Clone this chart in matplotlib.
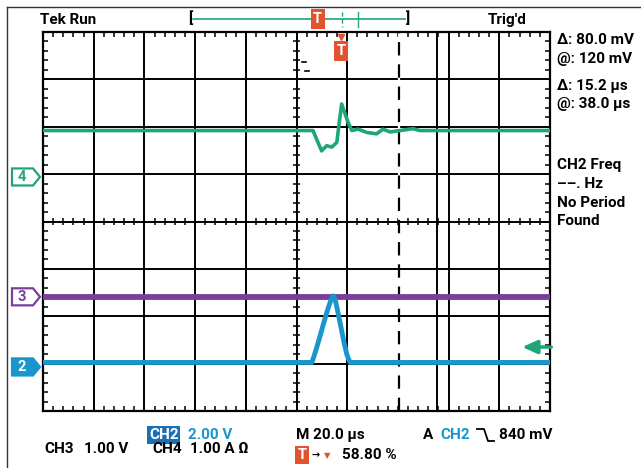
import numpy as np
import matplotlib.pyplot as plt
from matplotlib.transforms import Affine2D, blended_transform_factory
from matplotlib.patches import Polygon

plt.rcParams['font.family'] = ['Roboto', 'DejaVu Sans']
plt.rcParams['font.weight'] = 'bold'

# Scope settings
time_per_div = 20.0      # us / div
trig_pos = 0.588         # trigger position on screen
n_xdiv, n_ydiv = 10, 8
cursor_t = [22.8, 38.0]  # vertical cursors (us)
trig_level = 0.84        # V on CH2

# Channel ground positions (div) and scales (per div)
ch2_pos, ch2_scale = -3.07, 2.0
ch3_pos, ch3_scale = -1.59, 1.0
ch4_pos, ch4_scale = 0.94, 1.0

# CH4 current (A)
ch4_t = [-117.6, -11.1, -7.7, -5.7, -3.7, -1.7, -0.8, 0.2, 2.7, 4.2, 6.7,
         10.1, 14.0, 16.5, 19.3, 23.2, 28.4, 31.0, 82.4]
ch4_v = [0.98, 0.98, 0.55, 0.66, 0.63, 0.73, 1.12, 1.54, 1.16, 0.98, 1.01,
         0.94, 0.91, 1.01, 0.95, 0.98, 1.02, 0.98, 0.98]

# CH2 voltage (V)
ch2_t = [-117.6, -11.5, -9.9, -8.3, -6.75, -5.2, -4.0, -3.2, -2.4, -1.2,
         0.0, 1.1, 2.3, 3.5, 82.4]
ch2_v = [0.19, 0.19, 0.72, 1.31, 1.90, 2.45, 2.83, 3.00, 2.87, 2.28,
         1.65, 1.06, 0.51, 0.19, 0.19]

# CH3 voltage (V)
ch3_t = [-117.6, 82.4]
ch3_v = [0.0, 0.0]

green = '#1fa676'
blue = '#1a96cc'
purple = '#7a3e9d'
orange = '#e2532d'
boxblue = '#1b6fb5'

fig = plt.figure(figsize=(6.41, 4.68), dpi=100)
fig.patch.set_facecolor('white')
# pixel coordinates, origin top-left
px = Affine2D().scale(1 / 641, -1 / 468).translate(0, 1) + fig.transFigure

ax = fig.add_axes([43 / 641, 1 - 411 / 468, 507 / 641, 379 / 468])
t0 = -trig_pos * n_xdiv * time_per_div
t1 = t0 + n_xdiv * time_per_div
ax.set_xlim(t0, t1)
ax.set_ylim(-n_ydiv / 2, n_ydiv / 2)
ax.set_xticks([])
ax.set_yticks([])
for s in ax.spines.values():
    s.set_linewidth(1.6)

# Graticule
xgrid = t0 + time_per_div * np.arange(1, n_xdiv)
xgrid = [x for x in xgrid if abs(x - cursor_t[0]) > 2]
ax.vlines(xgrid, -4, 4, color='black', lw=1.4, zorder=1)
ax.hlines(np.arange(-3, 4), t0, t1, color='black', lw=1.4, zorder=1)

xminor = t0 + time_per_div / 5 * np.arange(1, n_xdiv * 5)
yminor = -4 + 0.2 * np.arange(1, n_ydiv * 5)
tx = 2.0    # tick length in us
ty = 0.105  # tick length in div
ax.vlines(xminor, 4 - ty, 4, color='black', lw=1.1)
ax.vlines(xminor, -4, -4 + ty, color='black', lw=1.1)
ax.hlines(yminor, t0, t0 + tx, color='black', lw=1.1)
ax.hlines(yminor, t1 - tx, t1, color='black', lw=1.1)
xc = t0 + time_per_div * n_xdiv / 2
ax.vlines(xminor, -0.07, 0.07, color='black', lw=1.1)
ax.hlines(yminor, xc - 1.3, xc + 1.3, color='black', lw=1.1)

# Cursors
ax.axvline(cursor_t[0], color='black', lw=1.6, ls=(0, (6, 4)), gapcolor='white', zorder=2)
ax.axvline(cursor_t[1], color='black', lw=1.4, zorder=2)
ax.plot([xc + 2.2, xc + 3.6], [3.37, 3.37], color='black', lw=1.2)
ax.plot([xc + 3.4, xc + 4.8], [3.18, 3.18], color='black', lw=1.2)

# Traces
ax.plot(ch3_t, ch3_pos + np.array(ch3_v) / ch3_scale, color=purple, lw=4.2, zorder=3)
ax.plot(ch4_t, ch4_pos + np.array(ch4_v) / ch4_scale, color=green, lw=2.6, zorder=4)
ax.plot(ch2_t, ch2_pos + np.array(ch2_v) / ch2_scale, color=blue, lw=3.5, zorder=5)

# Trigger level arrow
lvl = ch2_pos + trig_level / ch2_scale
ax.annotate('', xy=(t1 - 11, lvl), xytext=(t1 + 0.5, lvl), annotation_clip=False,
            arrowprops=dict(arrowstyle='-|>,head_length=0.9,head_width=0.4',
                            color=green, lw=2.5, shrinkA=0, shrinkB=0), zorder=6)

# Trigger marker at top of graticule
ax.text(0, 0.95, 'T', transform=ax.get_xaxis_transform(), ha='center', va='center',
        color='white', fontsize=10.5,
        bbox=dict(boxstyle='square,pad=0.18', fc=orange, ec='none'), zorder=7)
ax.plot([0], [0.988], marker='v', color=orange, ms=5,
        transform=ax.get_xaxis_transform(), clip_on=False, zorder=7)

# Channel ground markers
mk = blended_transform_factory(px, ax.transData)
for pos, lab, col, filled in [(ch4_pos, '4', green, False),
                              (ch3_pos, '3', purple, False),
                              (ch2_pos, '2', blue, True)]:
    h = 0.18
    poly = Polygon([(12, pos + h), (33, pos + h), (40, pos), (33, pos - h), (12, pos - h)],
                   closed=True, transform=mk, clip_on=False, lw=1.6,
                   ec=col, fc=col if filled else 'white')
    ax.add_patch(poly)
    ax.text(22, pos, lab, transform=mk, ha='center', va='center', fontsize=10.5,
            color='white' if filled else col, clip_on=False)

# Outer frame
fig.add_artist(plt.Line2D([7, 7], [7, 468], transform=px, color='#333333', lw=1))
fig.add_artist(plt.Line2D([7, 641], [7, 7], transform=px, color='#333333', lw=1))

# Header
fs = 11
fig.text(40, 20, 'Tek Run', transform=px, fontsize=fs, va='center')
fig.text(488, 20, "Trig'd", transform=px, fontsize=fs, va='center')
bar_l, bar_r = 193, 405
fig.text(bar_l - 3, 19, '[', transform=px, fontsize=fs, va='center', ha='center')
fig.text(bar_r + 3, 19, ']', transform=px, fontsize=fs, va='center', ha='center')
fig.add_artist(plt.Line2D([bar_l, bar_r], [19, 19], transform=px, color=green, lw=1.2))
frac = lambda t: bar_l + (t - t0) / (t1 - t0) * (bar_r - bar_l)
fig.add_artist(plt.Line2D([frac(cursor_t[0])] * 2, [12, 27], transform=px,
                          color=green, lw=1, ls=(0, (3, 2))))
fig.add_artist(plt.Line2D([frac(cursor_t[1])] * 2, [12, 27], transform=px, color=green, lw=1))
fig.text(frac(0), 19, 'T', transform=px, fontsize=10.5, va='center', ha='center', color='white',
         bbox=dict(boxstyle='square,pad=0.18', fc=orange, ec='none'))

# Right readouts
for y, s in [(40, 'Δ: 80.0 mV'), (59, '@: 120 mV'), (86, 'Δ: 15.2 µs'), (104, '@: 38.0 µs'),
             (165, 'CH2 Freq'), (184, '––. Hz'), (203, 'No Period'), (221, 'Found')]:
    fig.text(557, y, s, transform=px, fontsize=fs, va='center')

# Bottom readouts
fig.text(149, 435, 'CH2', transform=px, fontsize=fs, va='center', color='white',
         bbox=dict(boxstyle='square,pad=0.1', fc=boxblue, ec='none'))
fig.text(188, 435, '2.00 V', transform=px, fontsize=fs, va='center', color=blue)
fig.text(44, 449, 'CH3', transform=px, fontsize=fs, va='center')
fig.text(84, 449, '1.00 V', transform=px, fontsize=fs, va='center')
fig.text(152, 449, 'CH4', transform=px, fontsize=fs, va='center')
fig.text(190, 449, '1.00 A Ω', transform=px, fontsize=fs, va='center')
fig.text(296, 435, 'M 20.0 µs', transform=px, fontsize=fs, va='center')
fig.text(302, 455, 'T', transform=px, fontsize=10.5, va='center', ha='center', color='white',
         bbox=dict(boxstyle='square,pad=0.15', fc=orange, ec='none'))
fig.text(312, 455, '→', transform=px, fontsize=7, va='center', family=['DejaVu Sans'])
fig.text(324, 456, '▼', transform=px, fontsize=6, va='center', color=orange,
         family=['DejaVu Sans'])
fig.text(342, 455, '58.80 %', transform=px, fontsize=fs, va='center')
fig.text(423, 435, 'A', transform=px, fontsize=fs, va='center')
fig.text(440, 435, 'CH2', transform=px, fontsize=fs, va='center', color=blue)
fig.add_artist(plt.Line2D([477, 484, 488, 494], [429, 429, 441, 441], transform=px,
                          color='black', lw=1.3))
fig.text(499, 435, '840 mV', transform=px, fontsize=fs, va='center')

fig.savefig('out.png', dpi=100, facecolor='white')
